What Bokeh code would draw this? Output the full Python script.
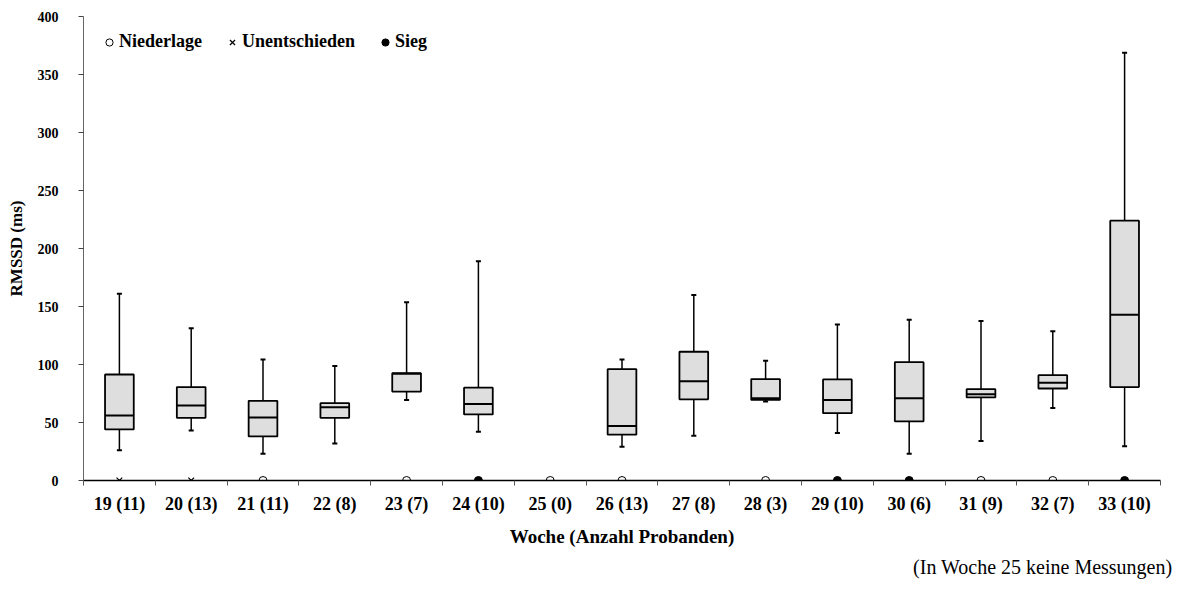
from bokeh.plotting import figure
from bokeh.models import (ColumnDataSource, FixedTicker, LinearAxis, Range1d,
                          Legend, LegendItem, Title)
from bokeh.embed import file_html
from bokeh.resources import INLINE

weeks = ["19 (11)", "20 (13)", "21 (11)", "22 (8)", "23 (7)", "24 (10)", "25 (0)",
         "26 (13)", "27 (8)", "28 (3)", "29 (10)", "30 (6)", "31 (9)", "32 (7)", "33 (10)"]
low = [26, 43, 23, 32, 69.5, 42, None, 29, 38.5, 68, 41, 23, 34, 62.5, 29.5]
q1 = [44, 54, 38, 54, 76.7, 57, None, 39.5, 70, 69.5, 58, 51, 71.6, 79.3, 80.5]
median = [56, 64.7, 54.3, 63.2, 92, 66, None, 47, 85.6, 71, 69.3, 71, 74.4, 84.2, 142.8]
q3 = [91.4, 80.5, 68.7, 66.7, 92.5, 80, None, 96, 111, 87.4, 87.1, 102, 78.7, 90.8, 224]
high = [161, 131.3, 104.3, 98.6, 153.7, 189, None, 104.3, 160, 103.2, 134.5, 138.5, 137.4, 128.7, 368.7]
results = ["Unentschieden", "Unentschieden", "Niederlage", "", "Niederlage", "Sieg", "Niederlage",
           "Niederlage", "", "Niederlage", "Sieg", "Sieg", "Niederlage", "Niederlage", "Sieg"]
y_ticks = [0, 50, 100, 150, 200, 250, 300, 350, 400]

FONT = "Liberation Serif"
BOX_W = 0.4
CAP_W = 0.035

idx = [i for i in range(len(weeks)) if low[i] is not None]
xc = [i + 0.5 for i in idx]
box = ColumnDataSource(dict(
    x=xc,
    lo=[low[i] for i in idx], q1=[q1[i] for i in idx], med=[median[i] for i in idx],
    q3=[q3[i] for i in idx], hi=[high[i] for i in idx],
    xl=[x - BOX_W / 2 for x in xc], xr=[x + BOX_W / 2 for x in xc],
    cl=[x - CAP_W for x in xc], cr=[x + CAP_W for x in xc],
))

p = figure(width=1177, height=589, output_backend="svg", toolbar_location=None,
           x_range=Range1d(0, len(weeks)), y_range=Range1d(0, 400),
           min_border_left=83, min_border_right=17, min_border_top=16, min_border_bottom=109,
           x_axis_type=None)
p.outline_line_color = None
p.xgrid.visible = False
p.ygrid.visible = False

# whiskers
p.segment(x0="x", y0="q3", x1="x", y1="hi", source=box, line_color="black", line_width=1.5)
p.segment(x0="x", y0="lo", x1="x", y1="q1", source=box, line_color="black", line_width=1.5)
p.segment(x0="cl", y0="hi", x1="cr", y1="hi", source=box, line_color="black", line_width=2)
p.segment(x0="cl", y0="lo", x1="cr", y1="lo", source=box, line_color="black", line_width=2)
# boxes
p.vbar(x="x", bottom="q1", top="q3", width=BOX_W, source=box,
       fill_color="#dedede", line_color="black", line_width=1.8)
p.segment(x0="xl", y0="med", x1="xr", y1="med", source=box, line_color="black", line_width=2)

# result markers
def res_src(kind):
    xs = [i + 0.5 for i, r in enumerate(results) if r == kind]
    return ColumnDataSource(dict(x=xs, y=[0] * len(xs)))

r_n = p.scatter("x", "y", source=res_src("Niederlage"), marker="circle", size=8,
                fill_color="white", line_color="black", line_width=1)
r_u = p.scatter("x", "y", source=res_src("Unentschieden"), marker="x", size=8,
                line_color="black", line_width=1.2)
r_s = p.scatter("x", "y", source=res_src("Sieg"), marker="circle", size=8,
                fill_color="black", line_color="black", line_width=1)

# y axis
ya = p.yaxis[0]
ya.ticker = FixedTicker(ticks=y_ticks)
ya.axis_label = "RMSSD (ms)"
ya.axis_label_text_font = FONT
ya.axis_label_text_font_style = "bold"
ya.axis_label_text_font_size = "17px"
ya.axis_label_text_color = "black"
ya.axis_label_standoff = 9
ya.major_label_text_font = FONT
ya.major_label_text_font_style = "bold"
ya.major_label_text_font_size = "14px"
ya.major_label_text_color = "black"
ya.major_label_standoff = 20
ya.major_tick_in = 0
ya.major_tick_out = 5
ya.minor_tick_line_color = None
ya.axis_line_color = "#666666"
ya.major_tick_line_color = "#444444"

# x axis: labels at category centres, boundary ticks as minor ticks
xa = LinearAxis(ticker=FixedTicker(ticks=[i + 0.5 for i in range(len(weeks))],
                                   minor_ticks=list(range(0, len(weeks) + 1))),
                major_label_overrides={i + 0.5: w for i, w in enumerate(weeks)},
                axis_line_color="black", axis_line_width=1.3,
                major_tick_line_color=None, major_tick_in=0, major_tick_out=0,
                minor_tick_line_color="#555555", minor_tick_in=0, minor_tick_out=5,
                major_label_text_font=FONT, major_label_text_font_style="bold",
                major_label_text_font_size="18px", major_label_text_color="black",
                major_label_standoff=8,
                axis_label="Woche (Anzahl Probanden)", axis_label_text_font=FONT,
                axis_label_text_font_style="bold", axis_label_text_font_size="19px",
                axis_label_text_color="black", axis_label_standoff=9)
p.add_layout(xa, "below")

foot = Title(text="(In Woche 25 keine Messungen)", align="right", text_font=FONT,
             text_font_style="normal", text_font_size="20px", text_color="black",
             offset=-12, standoff=8)
p.add_layout(foot, "below")

legend = Legend(items=[LegendItem(label="Niederlage", renderers=[r_n]),
                       LegendItem(label="Unentschieden", renderers=[r_u]),
                       LegendItem(label="Sieg", renderers=[r_s])],
                orientation="horizontal", location=(17, 428), margin=0, padding=5,
                spacing=21, glyph_width=18, glyph_height=18, label_standoff=1,
                label_height=20, label_text_font=FONT, label_text_font_style="bold",
                label_text_font_size="18px", label_text_color="black",
                border_line_color=None, background_fill_alpha=0)
p.add_layout(legend)

open("out.html", "w").write(file_html(p, INLINE))
